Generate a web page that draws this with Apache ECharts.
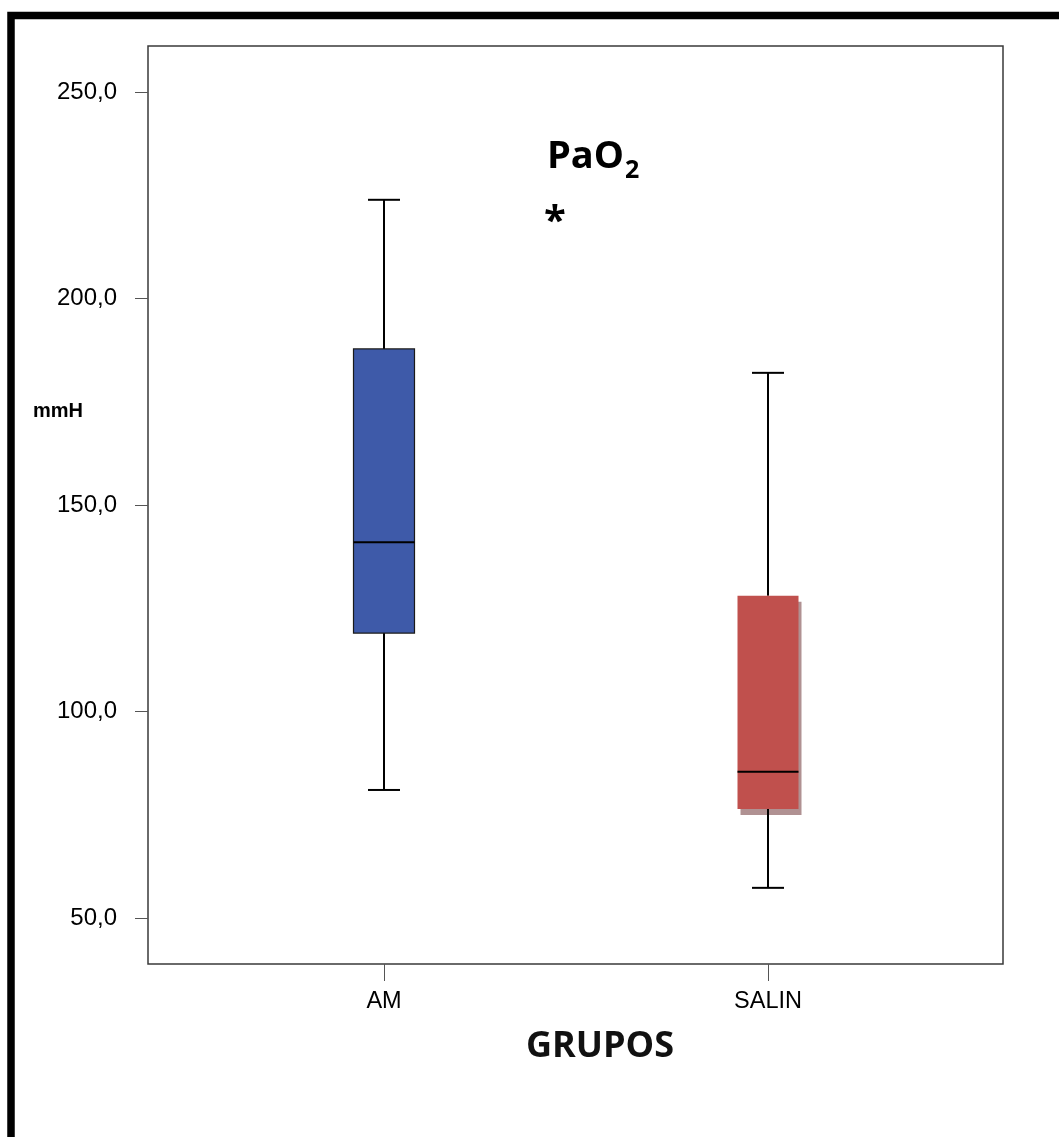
<!DOCTYPE html>
<html>
<head>
<meta charset="utf-8">
<title>PaO2 – GRUPOS</title>
<script src="https://cdn.jsdelivr.net/npm/echarts@6/dist/echarts.min.js"></script>
<style>
  html, body { margin: 0; padding: 0; background: #ffffff; }
  #chart { width: 1059px; height: 1137px; }
</style>
</head>
<body>
<div id="chart"></div>
<script>
// Groups and their box-plot statistics (mmHg)
const categories = ['AM', 'SALIN'];
const lowerWhisker = [81.0, 57.3];
const q1 = [119.0, 76.4];
const median = [141.0, 85.4];
const q3 = [187.8, 128.0];
const upperWhisker = [223.9, 182.0];

// Y axis tick values
const yTicks = [50, 100, 150, 200, 250];
const yMin = 38.86;
const yMax = 261.14;

const boxColors = ['#3E5AA9', '#C0504D'];
const boxBorders = ['#1a1a1a', null];
const boxShadow = [false, true];

const boxData = categories.map((c, i) =>
  [i, lowerWhisker[i], q1[i], median[i], q3[i], upperWhisker[i]]);

function renderBox(params, api) {
  const i = api.value(0);
  const at = v => api.coord([i, v]);
  const xc = at(api.value(3))[0];
  const yLo = at(api.value(1))[1];
  const yQ1 = at(api.value(2))[1];
  const yMed = at(api.value(3))[1];
  const yQ3 = at(api.value(4))[1];
  const yHi = at(api.value(5))[1];
  const bw = 61, cw = 32;
  const line = { stroke: '#000', lineWidth: 2 };
  const children = [];
  if (boxShadow[i]) {
    children.push({
      type: 'rect',
      shape: { x: xc - bw / 2 + 3, y: yQ3 + 6, width: bw, height: yQ1 - yQ3 },
      style: { fill: '#B09192' }
    });
  }
  // whiskers and caps
  children.push({ type: 'line', shape: { x1: xc, y1: yQ3, x2: xc, y2: yHi }, style: line });
  children.push({ type: 'line', shape: { x1: xc - cw / 2, y1: yHi, x2: xc + cw / 2, y2: yHi }, style: line });
  children.push({ type: 'line', shape: { x1: xc, y1: yQ1, x2: xc, y2: yLo }, style: line });
  children.push({ type: 'line', shape: { x1: xc - cw / 2, y1: yLo, x2: xc + cw / 2, y2: yLo }, style: line });
  // box
  children.push({
    type: 'rect',
    shape: { x: xc - bw / 2, y: yQ3, width: bw, height: yQ1 - yQ3 },
    style: boxBorders[i]
      ? { fill: boxColors[i], stroke: boxBorders[i], lineWidth: 1.2 }
      : { fill: boxColors[i] }
  });
  // median
  children.push({
    type: 'line',
    shape: { x1: xc - bw / 2, y1: yMed, x2: xc + bw / 2, y2: yMed },
    style: { stroke: '#000', lineWidth: 2 }
  });
  return { type: 'group', children };
}

const chart = echarts.init(document.getElementById('chart'), null, { renderer: 'canvas' });

chart.setOption({
  backgroundColor: '#ffffff',
  animation: false,
  title: {
    text: '{a|PaO}{b|2}',
    left: 542,
    top: 133,
    textStyle: {
      rich: {
        a: { fontFamily: 'Open Sans', fontWeight: 'bold', fontSize: 38, color: '#000' },
        b: { fontFamily: 'Open Sans', fontWeight: 'bold', fontSize: 25, color: '#000', verticalAlign: 'bottom', padding: [0, 0, -7, 1] }
      }
    }
  },
  graphic: [
    {
      type: 'polyline',
      shape: { points: [[11, 1137], [11, 15.5], [1059, 15.5]] },
      style: { stroke: '#000', lineWidth: 7.5, fill: null },
      silent: true
    },
    {
      type: 'text',
      left: 544,
      top: 203,
      style: { text: '*', font: 'bold 40px "Open Sans"', fill: '#000' }
    },
    {
      type: 'text',
      left: 33,
      top: 401,
      style: { text: 'mmH', font: 'bold 20px "Liberation Sans", Arial', fill: '#000' }
    },
    {
      type: 'text',
      x: 600,
      y: 1047,
      style: {
        text: 'GRUPOS',
        font: 'bold 36px "Open Sans"',
        fill: '#111',
        align: 'center',
        verticalAlign: 'middle'
      }
    }
  ],
  grid: [
    { left: 148, top: 46, width: 855, height: 918, show: true, borderColor: '#3a3a3a', borderWidth: 1.5, backgroundColor: 'transparent' },
    { left: 192, top: 46, width: 768, height: 918 }
  ],
  xAxis: [
    { gridIndex: 0, type: 'value', show: false, min: 0, max: 1 },
    {
      gridIndex: 1,
      type: 'category',
      data: categories,
      boundaryGap: true,
      axisLine: { show: false },
      axisTick: { show: true, alignWithLabel: true, length: 17, lineStyle: { color: '#555', width: 1 } },
      axisLabel: { margin: 26, fontFamily: 'Liberation Sans, Arial', fontSize: 23.5, color: '#000' },
      splitLine: { show: false }
    }
  ],
  yAxis: [
    {
      gridIndex: 0,
      type: 'value',
      min: yMin,
      max: yMax,
      axisLine: { show: false },
      axisTick: { show: true, customValues: yTicks, length: 13, lineStyle: { color: '#555', width: 1 } },
      axisLabel: {
        customValues: yTicks,
        margin: 31,
        fontFamily: 'Liberation Sans, Arial',
        fontSize: 24,
        color: '#000',
        formatter: v => v.toFixed(1).replace('.', ',')
      },
      splitLine: { show: false }
    },
    { gridIndex: 1, type: 'value', min: yMin, max: yMax, show: false }
  ],
  series: [
    {
      type: 'custom',
      xAxisIndex: 1,
      yAxisIndex: 1,
      renderItem: renderBox,
      encode: { x: 0, y: [1, 2, 3, 4, 5] },
      data: boxData,
      clip: false
    }
  ]
});
</script>
</body>
</html>
